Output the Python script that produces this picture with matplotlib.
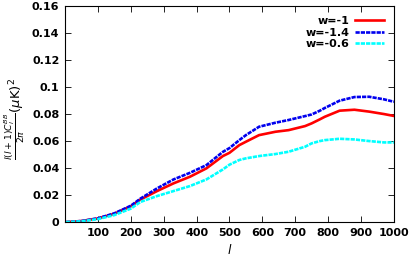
import numpy as np
import matplotlib
matplotlib.use('Agg')
import matplotlib.pyplot as plt

l = [2, 50, 100, 150, 200, 230, 280, 330, 380, 430, 480, 500, 530, 550, 590,
     640, 680, 730, 750, 775, 790, 835, 880, 925, 970, 1000]
w_m1 = [0.0, 0.0008, 0.0027, 0.0062, 0.0117, 0.0168, 0.0230, 0.0287, 0.0336, 0.0398,
        0.0489, 0.0513, 0.0570, 0.0595, 0.0644, 0.0669, 0.0681, 0.0711, 0.0731, 0.0761,
        0.0780, 0.0825, 0.0832, 0.0818, 0.0800, 0.0786]
w_m14 = [0.0, 0.0008, 0.0028, 0.0065, 0.0121, 0.0175, 0.0250, 0.0316, 0.0365, 0.0422,
         0.0520, 0.0548, 0.0607, 0.0644, 0.0706, 0.0736, 0.0756, 0.0785, 0.0797, 0.0825,
         0.0845, 0.0899, 0.0926, 0.0928, 0.0909, 0.0891]
w_m06 = [0.0, 0.0006, 0.0022, 0.0052, 0.0100, 0.0150, 0.0193, 0.0230, 0.0267, 0.0316,
         0.0390, 0.0425, 0.0460, 0.0472, 0.0489, 0.0504, 0.0521, 0.0558, 0.0583, 0.0600,
         0.0607, 0.0617, 0.0612, 0.0600, 0.0590, 0.0590]

xticks = [100, 200, 300, 400, 500, 600, 700, 800, 900, 1000]
yticks = [0, 0.02, 0.04, 0.06, 0.08, 0.1, 0.12, 0.14, 0.16]
ylabels = ['0', '0.02', '0.04', '0.06', '0.08', '0.1', '0.12', '0.14', '0.16']

fig = plt.figure(figsize=(4.09, 2.61), dpi=100)
ax = fig.add_axes([0.159, 0.149, 0.804, 0.828])

ax.plot(l, w_m1, color='red', lw=1.9, label='w=-1')
ax.plot(l, w_m14, color='#0000ee', lw=1.9, ls=(0, (1.6, 0.4)), label='w=-1.4')
ax.plot(l, w_m06, color='cyan', lw=1.9, ls=(0, (1.6, 0.4)), label='w=-0.6')

ax.set_xlim(0, 1000)
ax.set_ylim(0, 0.16)
ax.set_xticks(xticks)
ax.set_xticklabels([str(t) for t in xticks], fontweight='bold', fontsize=8)
ax.set_yticks(yticks)
ax.set_yticklabels(ylabels, fontweight='bold', fontsize=8)
ax.tick_params(direction='in', top=True, right=True, length=4, width=0.6, pad=4)
for s in ax.spines.values():
    s.set_linewidth(0.8)

ax.set_xlabel('$l$', fontsize=9)
fig.text(0.005, 0.545, r'$\frac{l(l+1)C_l^{BB}}{2\pi}(\mu\mathrm{K})^2$', fontsize=9.5,
         rotation=90, ha='left', va='center')

leg = ax.legend(loc='upper right', frameon=False, markerfirst=False,
                prop={'weight': 'bold', 'size': 8}, handlelength=2.6,
                borderaxespad=0.5, labelspacing=0.15, handletextpad=0.5)

fig.savefig('out.png', dpi=100)
